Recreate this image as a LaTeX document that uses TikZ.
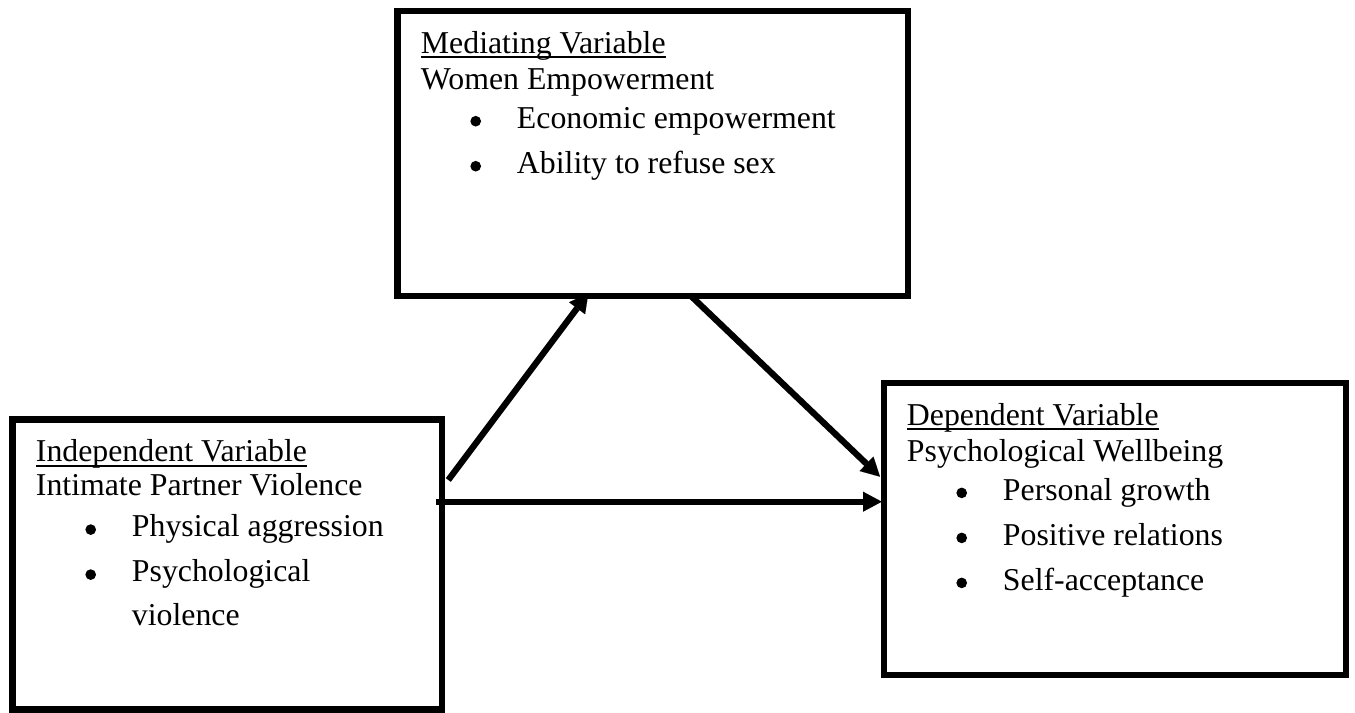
\documentclass[tikz,border=0pt]{standalone}
\usepackage{fontspec}
\setmainfont{Liberation Serif}
\usetikzlibrary{arrows.meta}
\newcommand{\ulx}[1]{\setbox0\hbox{#1}\rlap{\rule[-3.65pt]{\wd0}{1.3pt}}\box0}
\begin{document}
\begin{tikzpicture}[x=0.75pt,y=-0.75pt,
  box/.style={draw=black, line width=4.9pt, rectangle, inner sep=0pt, outer sep=0pt},
  txt/.style={anchor=base west, inner sep=0pt, font=\fontsize{23.85pt}{28pt}\selectfont},
  bul/.style={circle, fill=black, inner sep=0pt, minimum size=8pt},
  conn/.style={line width=4.7pt, -{Triangle[length=14pt,width=15pt,line width=0.01pt]}}]
\useasboundingbox (0,0) rectangle (1355,713);
\fill[white] (0,0) rectangle (1355,713);

% boxes
\node[box, minimum width=382.875pt, minimum height=213.75pt] (med) at (652.75,153.5) {};
\node[box, minimum width=322.125pt, minimum height=217.5pt] (ind) at (227.25,564.5) {};
\node[box, minimum width=346.5pt, minimum height=219pt] (dep) at (1115,529) {};

% mediating texts
\node[txt] (medh) at (420.7,53.3) {\ulx{Mediating Variable}};
\node[txt] (medn) at (420.7,89.3) {Women Empowerment};
\node[bul] (medb1) at (475.7,121.2) {};
\node[txt] (medi1) at (516.7,128.3) {Economic empowerment};
\node[bul] (medb2) at (475.7,166.2) {};
\node[txt] (medi2) at (516.7,173.3) {Ability to refuse sex};

% independent texts
\node[txt] (indh) at (35.7,461.7) {\ulx{Independent Variable}};
\node[txt] (indn) at (35.7,495.5) {Intimate Partner Violence};
\node[bul] (indb1) at (90.7,529.6) {};
\node[txt] (indi1) at (131.7,536.7) {Physical aggression};
\node[bul] (indb2) at (90.7,574.6) {};
\node[txt] (indi2) at (131.7,581.7) {Psychological};
\node[txt] (indi3) at (131.7,625) {violence};

% dependent texts
\node[txt] (deph) at (906.7,425) {\ulx{Dependent Variable}};
\node[txt] (depn) at (906.7,461.7) {Psychological Wellbeing};
\node[bul] (depb1) at (961.7,492.9) {};
\node[txt] (depi1) at (1002.7,500) {Personal growth};
\node[bul] (depb2) at (961.7,537.9) {};
\node[txt] (depi2) at (1002.7,545) {Positive relations};
\node[bul] (depb3) at (961.7,582.9) {};
\node[txt] (depi3) at (1002.7,590) {Self-acceptance};

% connectors
\draw[conn] ([shift={(6.3,60.5)}]ind.north east) -- ([shift={(190.8,-2.7)}]med.south west);
\draw[conn] ([shift={(292.5,-1)}]med.south west) -- ([shift={(-4,93.7)}]dep.north west);
\draw[conn] ([shift={(-6,82.2)}]ind.north east) -- ([shift={(-2.3,118.7)}]dep.north west);
\end{tikzpicture}
\end{document}
